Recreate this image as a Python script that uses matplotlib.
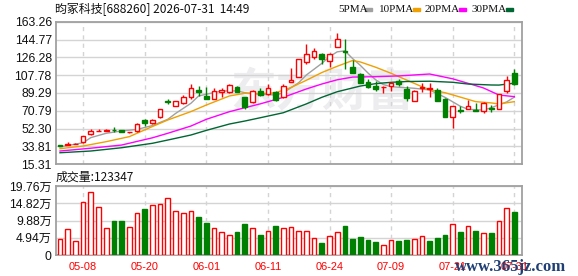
import numpy as np
import matplotlib.pyplot as plt
from matplotlib.patches import Rectangle

# K线数据 (开, 高, 低, 收)
opens = [34.8, 35.8, 36.0, 38.4, 46.4, 49.6, 50.2, 51.2, 50.4, 48.6,
         49.5, 61.3, 57.8, 64.0, 80.5, 75.5, 78.6, 84.8, 92.4, 86.5,
         83.4, 90.5, 90.6, 95.5, 84.8, 80.3, 91.4, 87.9, 90.0, 85.1,
         100.4, 106.2, 121.8, 126.3, 129.4, 122.2, 137.3, 132.5, 116.6, 108.7,
         100.4, 96.5, 95.0, 96.9, 101.7, 93.4, 81.3, 94.8, 93.8, 92.4,
         83.1, 64.0, 71.2, 72.4, 71.8, 71.0, 73.8, 72.4, 91.7, 110.4]
highs = [35.2, 38.4, 37.8, 45.0, 52.2, 52.4, 51.8, 53.7, 50.6, 49.2,
         58.0, 62.0, 62.7, 73.0, 82.7, 81.0, 87.2, 98.6, 96.5, 95.2,
         94.2, 94.8, 98.6, 96.5, 85.2, 92.4, 94.2, 98.6, 91.7, 98.6,
         114.9, 124.5, 140.1, 135.6, 131.1, 130.5, 151.2, 145.8, 123.5, 110.4,
         104.2, 101.4, 97.0, 99.5, 103.8, 96.9, 92.5, 100.0, 100.0, 94.2,
         84.0, 76.1, 75.8, 82.0, 79.3, 79.6, 76.8, 88.0, 106.9, 113.8]
lows = [34.0, 35.6, 35.9, 37.9, 45.4, 49.5, 50.1, 48.8, 49.0, 47.8,
        49.3, 55.0, 57.5, 63.5, 77.9, 75.3, 77.8, 83.4, 86.2, 83.2,
        82.8, 85.5, 89.0, 90.4, 72.4, 78.6, 86.2, 86.9, 80.6, 84.5,
        100.4, 105.5, 119.4, 124.6, 119.4, 116.6, 137.0, 114.2, 109.7, 99.3,
        94.2, 91.7, 89.0, 91.7, 96.9, 80.6, 80.5, 90.6, 85.5, 81.0,
        64.5, 52.6, 68.2, 72.2, 70.6, 68.9, 69.9, 72.2, 89.6, 97.6]
closes = [34.4, 36.3, 36.4, 44.7, 49.8, 50.3, 50.6, 50.8, 49.2, 49.0,
          57.4, 58.2, 61.3, 72.4, 80.0, 80.7, 84.8, 94.8, 90.0, 83.4,
          91.4, 92.8, 97.2, 90.6, 74.4, 91.1, 87.2, 94.8, 81.7, 96.9,
          102.8, 124.2, 129.7, 132.9, 124.2, 130.1, 145.0, 131.8, 110.4, 100.0,
          95.8, 93.4, 95.5, 99.3, 98.9, 84.4, 91.7, 95.6, 94.5, 81.3,
          64.7, 75.5, 70.6, 75.5, 71.0, 78.6, 73.0, 87.9, 102.8, 98.6]

# 成交量 (万)
volumes = [4.7, 7.5, 4.1, 15.2, 18.1, 13.8, 7.8, 9.6, 9.6, 8.1,
           12.1, 13.3, 14.4, 14.7, 16.4, 12.7, 12.1, 12.7, 11.0, 9.3,
           7.8, 6.7, 5.8, 6.5, 8.8, 7.8, 5.6, 7.0, 8.2, 7.8,
           8.1, 7.0, 7.0, 5.0, 3.3, 5.5, 6.7, 8.2, 4.5, 5.1,
           4.2, 3.6, 3.0, 4.4, 3.9, 4.2, 4.7, 5.5, 3.9, 4.8,
           5.6, 9.0, 6.5, 8.4, 6.9, 6.4, 6.2, 9.8, 13.5, 12.33]
vol_down = [7, 8, 11, 18, 19, 23, 24, 26, 28, 34, 37, 38, 39, 40, 41,
            44, 45, 48, 49, 50, 52, 54, 56, 59]

# 均线 (按K线序号取点)
ma5_x = [0, 3, 4, 6, 8, 10, 12, 14, 15, 17, 18, 19, 21, 23, 24, 26, 28, 29,
         31, 32, 34, 35, 36, 37, 38, 39, 40, 41, 42, 43, 46, 48, 50, 52, 53,
         55, 56, 58, 59]
ma5_y = [33.3, 37.7, 43.0, 47.5, 49.9, 51.5, 55.5, 62.0, 68.0, 78.6, 86.2,
         88.0, 91.4, 91.5, 89.6, 88.0, 87.2, 89.5, 100.0, 108.0, 120.0, 127.0,
         132.0, 133.0, 125.0, 118.0, 110.0, 103.0, 98.0, 95.8, 94.2, 92.4,
         84.8, 75.5, 72.4, 71.6, 74.0, 80.0, 85.0]
ma10_x = [0, 3, 6, 9, 12, 14, 17, 19, 22, 24, 26, 28, 30, 32, 34, 36, 38, 39,
          41, 43, 45, 47, 48, 50, 52, 54, 56, 57, 59]
ma10_y = [31.5, 34.3, 38.8, 44.0, 54.5, 61.3, 70.0, 76.8, 86.2, 89.0, 88.5,
          89.5, 95.0, 102.5, 110.5, 117.0, 123.0, 121.5, 116.0, 109.7, 102.8,
          95.8, 92.8, 89.6, 85.0, 80.3, 79.0, 77.9, 80.3]
ma20_x = [0, 4, 8, 12, 14, 17, 19, 22, 24, 26, 29, 32, 34, 36, 38, 41, 44,
          47, 48, 51, 53, 55, 57, 59]
ma20_y = [29.1, 32.0, 35.3, 42.8, 47.5, 55.0, 62.0, 69.9, 74.0, 78.0, 84.8,
          93.5, 98.6, 103.0, 105.8, 106.2, 107.0, 108.5, 109.0, 104.0, 99.3,
          94.5, 87.2, 85.5]
ma30_x = [0, 4, 8, 12, 14, 17, 19, 22, 24, 26, 29, 32, 34, 36, 39, 41, 43,
          45, 48, 51, 53, 56, 57, 59]
ma30_y = [27.3, 29.1, 32.5, 37.1, 40.5, 45.7, 50.5, 57.1, 60.2, 63.6, 68.8,
          78.0, 84.8, 90.6, 96.5, 99.0, 100.4, 101.2, 101.5, 100.4, 98.6,
          97.6, 97.5, 99.5]

price_ticks = [15.31, 33.81, 52.30, 70.79, 89.29, 107.78, 126.28, 144.77, 163.26]
vol_ticks = [0, 4.94, 9.88, 14.82, 19.76]
date_pos = [3, 11, 19, 27, 35, 43, 51, 59]
date_labels = ["05-08", "05-20", "06-01", "06-11", "06-24", "07-09", "07-21", "07-31"]

RED = "#ff0000"
GREEN = "#008000"
GRID = "#d4d4d4"
SPINE = "#a0a0a0"
num_font = ["Liberation Sans", "Noto Sans CJK SC"]

fig = plt.figure(figsize=(5.78, 2.76), dpi=100)
ax1 = fig.add_axes([56 / 578, 1 - 164.3 / 276, 466 / 578, 142.6 / 276])
ax2 = fig.add_axes([56 / 578, 1 - 255 / 276, 466 / 578, 69 / 276])

n = len(closes)
x = np.arange(n)
o = np.array(opens)
c = np.array(closes)
up = c >= o

# 水印
ax1.text(0.57, 0.50, "东方财富", transform=ax1.transAxes, fontsize=33,
         family="Noto Sans CJK SC", weight="bold", color="#ededf0",
         ha="center", va="center", zorder=0)

# 上图: K线
for i in range(n):
    col = RED if up[i] else GREEN
    ax1.vlines(x[i], lows[i], highs[i], color=col, lw=1, zorder=3)
bottoms = np.minimum(o, c)
heights = np.maximum(np.abs(c - o), 0.6)
ax1.bar(x[up], heights[up], bottom=bottoms[up], width=0.62,
        facecolor="white", edgecolor=RED, lw=1, zorder=4)
ax1.bar(x[~up], heights[~up], bottom=bottoms[~up], width=0.62,
        facecolor=GREEN, edgecolor=GREEN, lw=1, zorder=4)

ax1.plot(ma5_x, ma5_y, color="#a0a0a0", lw=1, zorder=2)
ax1.plot(ma10_x, ma10_y, color="#f0a000", lw=1, zorder=2)
ax1.plot(ma20_x, ma20_y, color="#ff00ff", lw=1, zorder=2)
ax1.plot(ma30_x, ma30_y, color="#006633", lw=1, zorder=2)

ax1.set_ylim(price_ticks[0], price_ticks[-1])
ax1.set_yticks(price_ticks)
ax1.set_yticklabels([f"{v:.2f}" for v in price_ticks], family=num_font,
                    fontsize=8.7, color="#111111")
ax1.set_xticks(date_pos)
ax1.set_xticklabels([])

# 下图: 成交量
colors_face = []
colors_edge = []
for i in range(n):
    if i in vol_down:
        colors_face.append(GREEN)
        colors_edge.append(GREEN)
    else:
        colors_face.append("white")
        colors_edge.append(RED)
ax2.bar(x, volumes, width=0.62, color=colors_face, edgecolor=colors_edge,
        lw=1, zorder=3)
ax2.set_ylim(0, vol_ticks[-1])
ax2.set_yticks(vol_ticks)
ax2.set_yticklabels(["0"] + [f"{v:.2f}万" for v in vol_ticks[1:]],
                    family=num_font, fontsize=8.7, color="#111111")
ax2.set_xticks(date_pos)
ax2.set_xticklabels(date_labels, family=num_font, fontsize=7.9, color=RED)

for ax in (ax1, ax2):
    ax.set_xlim(-0.52, 60)
    ax.grid(True, axis="y", color=GRID, lw=1, zorder=1)
    ax.grid(True, axis="x", color=GRID, lw=1, ls=(0, (3, 3)), zorder=1)
    ax.set_axisbelow(True)
    ax.tick_params(length=0, pad=3)
    for s in ax.spines.values():
        s.set_color(SPINE)
        s.set_linewidth(1.3)
ax2.tick_params(axis="x", pad=5)

# 标题与图例
fig.text(55 / 578, 1 - 9 / 276, "昀冢科技[688260] 2026-07-31  14:49",
         family=["Noto Sans CJK SC", "DejaVu Sans"], fontsize=8.6,
         color="#111111", va="center", ha="left")
fig.text(56 / 578, 1 - 177 / 276, "成交量:123347",
         family=["Noto Sans CJK SC", "DejaVu Sans"], fontsize=8.6,
         color="#111111", va="center", ha="left")

legend_items = [("5PMA", 338, 365, "#a0a0a0"), ("10PMA", 379, 413, "#f0a000"),
                ("20PMA", 425, 459, "#ff00ff"), ("30PMA", 472, 506, "#006633")]
for lab, tx, rx, col in legend_items:
    fig.text(tx / 578, 1 - 9.5 / 276, lab, family="Liberation Serif",
             fontsize=8.0, color="#111111", va="center", ha="left")
    fig.patches.append(Rectangle((rx / 578, 1 - 11 / 276), 7 / 578, 3 / 276,
                                 transform=fig.transFigure, color=col))

fig.text(455 / 578, 1 - 267 / 276, "www.365jz.com", family="Liberation Serif",
         fontsize=12, weight="bold", color="#1f3f75", va="center", ha="left")

plt.savefig("out.png", dpi=100)
